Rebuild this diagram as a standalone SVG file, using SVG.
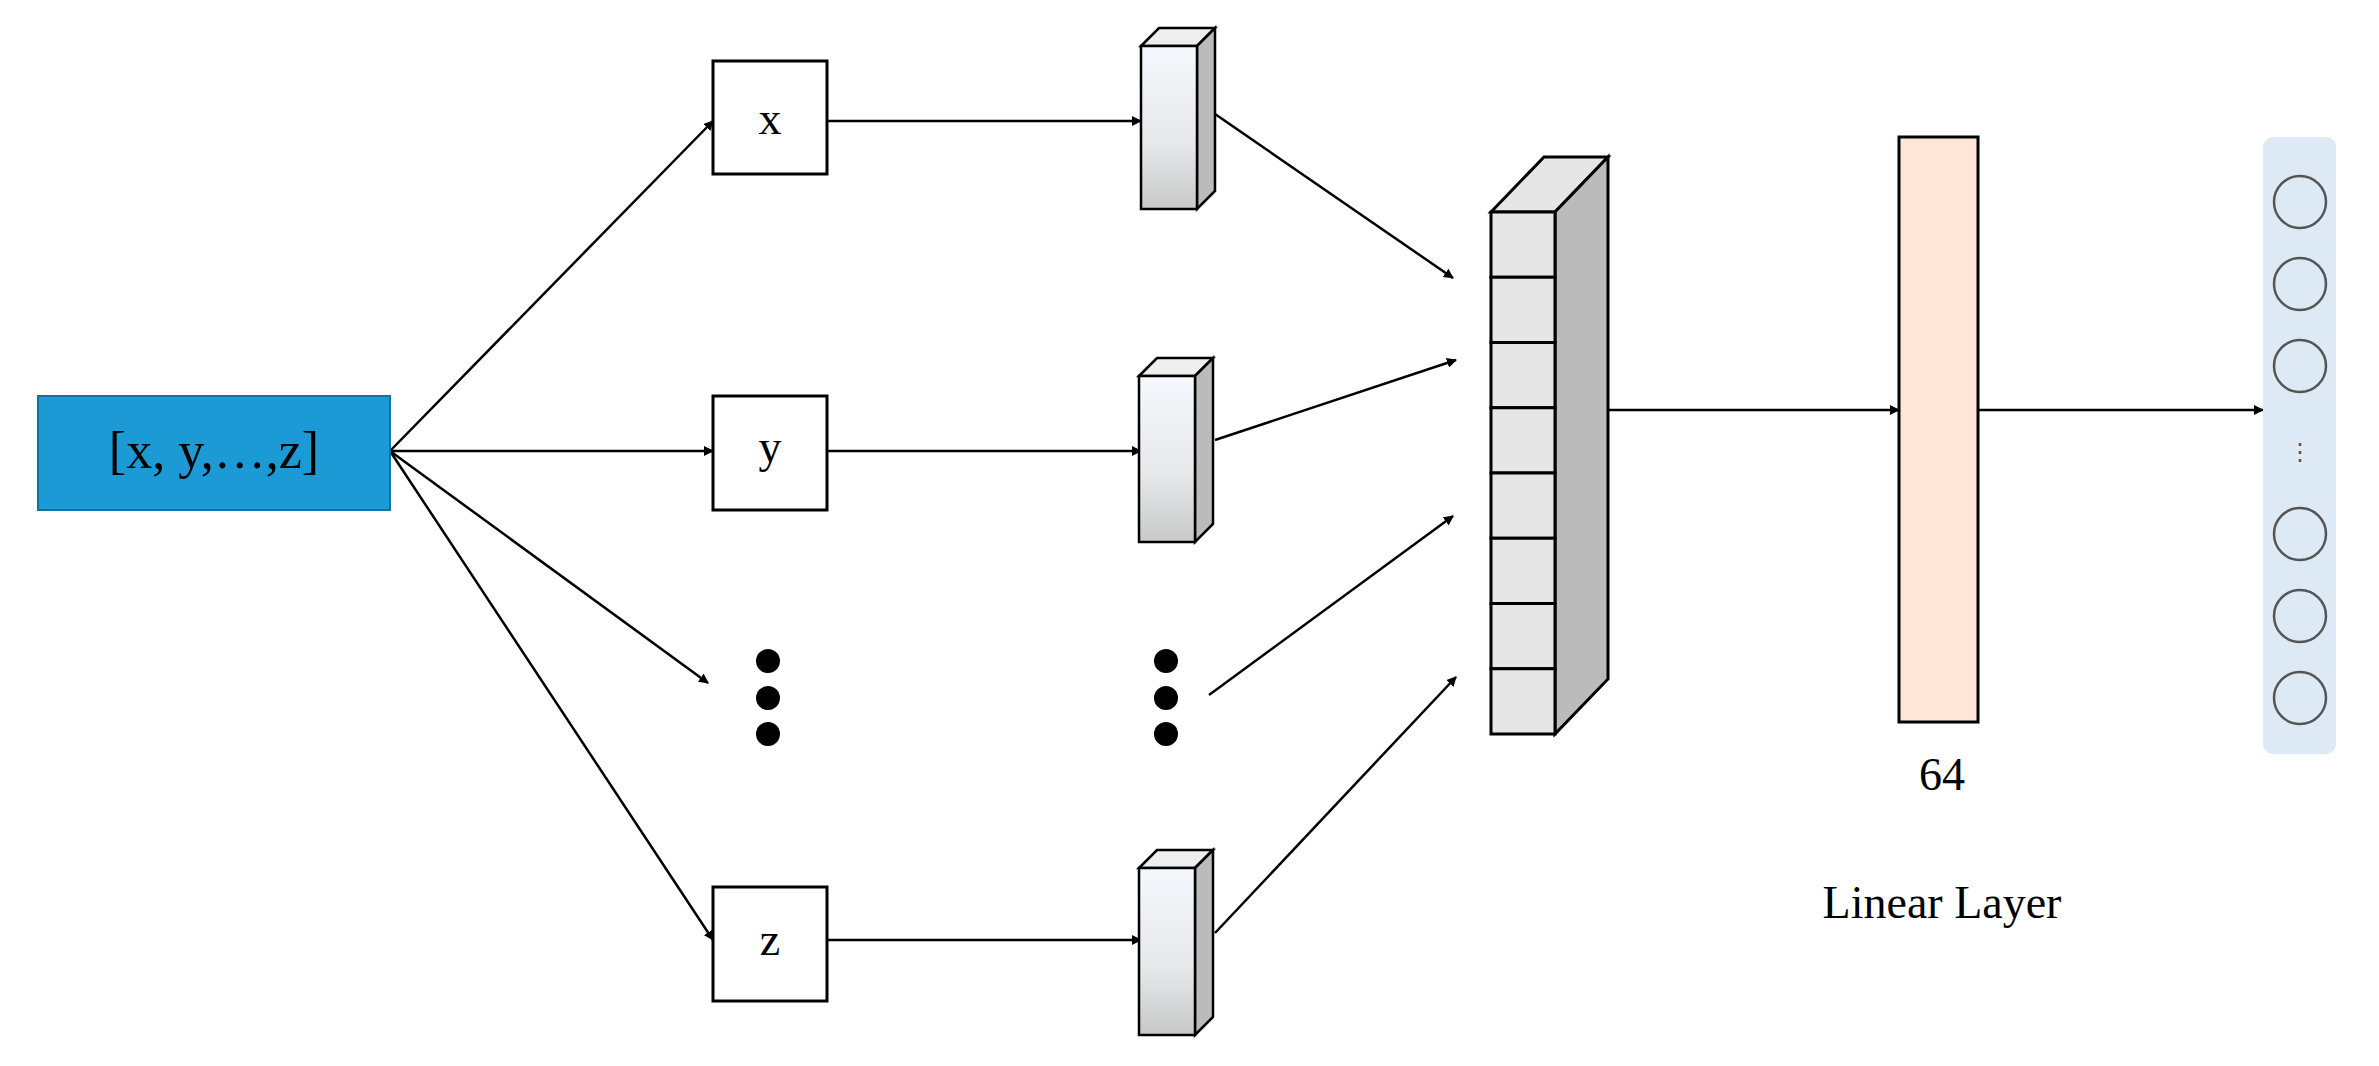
<svg xmlns="http://www.w3.org/2000/svg" width="2379" height="1066" viewBox="0 0 2379 1066">
<style>
.t{font-family:"Liberation Serif",serif;fill:#000;text-anchor:middle}
.c{stroke:#000;stroke-width:2.5;fill:none;marker-end:url(#a)}
.bx{fill:#fff;stroke:#000;stroke-width:3}
.cell{fill:#e6e6e6;stroke:#000;stroke-width:3}
.oc{fill:none;stroke:#555;stroke-width:2.5}
</style>
<defs>
<marker id="a" markerWidth="10" markerHeight="10" refX="9" refY="5" orient="auto" markerUnits="userSpaceOnUse" viewBox="0 0 10 10"><path d="M0,0 L10,5 L0,10 z" fill="#000"/></marker>
<linearGradient id="g" x1="0" y1="0" x2="0" y2="1"><stop offset="0" stop-color="#f5f8fc"/><stop offset="0.6" stop-color="#e6e8ea"/><stop offset="1" stop-color="#c8c8c8"/></linearGradient>
</defs>
<rect width="2379" height="1066" fill="#fff"/>
<g id="connectors">
<path class="c" d="M390,451 L713,121" style="marker-end:url(#a)"/>
<path class="c" d="M390,451 L713,451"/>
<path class="c" d="M390,451 L708,683"/>
<path class="c" d="M390,451 L713,940"/>
<path class="c" d="M827,121 L1141,121"/>
<path class="c" d="M827,451 L1141,451"/>
<path class="c" d="M827,940 L1141,940"/>
<path class="c" d="M1215,114 L1453,278"/>
<path class="c" d="M1215,440 L1456,360"/>
<path class="c" d="M1209,695 L1453,516"/>
<path class="c" d="M1215,933 L1456,677"/>
<path class="c" d="M1608,410 L1899,410"/>
<path class="c" d="M1978,410 L2263,410"/>
</g>
<defs><style>.c{stroke-width:2.5}</style></defs>
<g id="input"><rect x="38" y="396" width="352" height="114" fill="#1b9ad6" stroke="#10739e" stroke-width="2"/><text class="t" x="214" y="468" font-size="52">[x, y,…,z]</text></g>
<g id="box-x"><rect class="bx" x="713" y="61" width="114" height="113"/><text class="t" x="770" y="134" font-size="46">x</text></g>
<g id="box-y"><rect class="bx" x="713" y="396" width="114" height="114"/><text class="t" x="770" y="462" font-size="46">y</text></g>
<g id="box-z"><rect class="bx" x="713" y="887" width="114" height="114"/><text class="t" x="770" y="955" font-size="46">z</text></g>
<g id="dots1" fill="#000"><circle cx="768" cy="661" r="12"/><circle cx="768" cy="698" r="12"/><circle cx="768" cy="734" r="12"/></g>
<g id="dots2" fill="#000"><circle cx="1166" cy="661" r="12"/><circle cx="1166" cy="698" r="12"/><circle cx="1166" cy="734" r="12"/></g>
<g id="cub1" stroke="#000" stroke-width="2.5"><path d="M1141,46 L1159,28 L1215,28 L1197,46 z" fill="#eee"/><path d="M1197,46 L1215,28 L1215,191 L1197,209 z" fill="#bbb"/><rect x="1141" y="46" width="56" height="163" fill="url(#g)"/></g>
<g id="cub2" stroke="#000" stroke-width="2.5"><path d="M1139,376 L1157,358 L1213,358 L1195,376 z" fill="#eee"/><path d="M1195,376 L1213,358 L1213,524 L1195,542 z" fill="#bbb"/><rect x="1139" y="376" width="56" height="166" fill="url(#g)"/></g>
<g id="cub3" stroke="#000" stroke-width="2.5"><path d="M1139,868 L1157,850 L1213,850 L1195,868 z" fill="#eee"/><path d="M1195,868 L1213,850 L1213,1017 L1195,1035 z" fill="#bbb"/><rect x="1139" y="868" width="56" height="167" fill="url(#g)"/></g>
<g id="concat" stroke="#000" stroke-width="3">
<path d="M1491,212 L1544,157 L1608,157 L1555,212 z" fill="#e6e6e6"/>
<path d="M1555,212 L1608,157 L1608,679 L1555,734 z" fill="#bbb"/>
<rect class="cell" x="1491" y="212" width="64" height="65.25"/>
<rect class="cell" x="1491" y="277.25" width="64" height="65.25"/>
<rect class="cell" x="1491" y="342.5" width="64" height="65.25"/>
<rect class="cell" x="1491" y="407.75" width="64" height="65.25"/>
<rect class="cell" x="1491" y="473" width="64" height="65.25"/>
<rect class="cell" x="1491" y="538.25" width="64" height="65.25"/>
<rect class="cell" x="1491" y="603.5" width="64" height="65.25"/>
<rect class="cell" x="1491" y="668.75" width="64" height="65.25"/>
</g>
<g id="linear"><rect x="1899" y="137" width="79" height="585" fill="#ffe6d9" stroke="#000" stroke-width="3"/><text class="t" x="1942" y="790" font-size="46">64</text><text class="t" x="1942" y="918" font-size="46">Linear Layer</text></g>
<g id="output"><rect x="2263" y="137" width="73" height="617" rx="10" fill="#dde9f5"/>
<circle class="oc" cx="2300" cy="202" r="26"/><circle class="oc" cx="2300" cy="284" r="26"/><circle class="oc" cx="2300" cy="366" r="26"/>
<circle class="oc" cx="2300" cy="534" r="26"/><circle class="oc" cx="2300" cy="616" r="26"/><circle class="oc" cx="2300" cy="698" r="26"/>
<text x="2300" y="460" font-size="24" font-family="Liberation Sans,sans-serif" fill="#555" text-anchor="middle">⋮</text></g>
</svg>
